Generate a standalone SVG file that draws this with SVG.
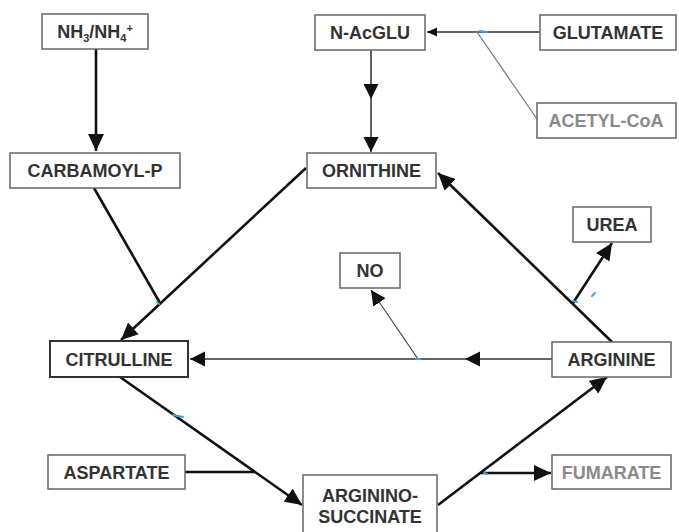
<svg xmlns="http://www.w3.org/2000/svg" width="679" height="532" viewBox="0 0 679 532">
<style>
.box{fill:#fff;stroke:#666;stroke-width:1.5}
.t{font-family:"Liberation Sans",Arial,sans-serif;font-weight:bold;font-size:18px;fill:#333;text-anchor:middle}
.g{fill:#8a8a8a}
.thick{fill:none;stroke:#111;stroke-width:2.6}
.med{fill:none;stroke:#333;stroke-width:1.5}
.thin{fill:none;stroke:#444;stroke-width:1.2}
.blue{fill:none;stroke:#3aa6dd;stroke-width:2;stroke-linecap:round}
</style>
<defs>
<marker id="big" markerUnits="userSpaceOnUse" markerWidth="18" markerHeight="16" refX="17" refY="8" orient="auto"><path d="M0,0 L17,8 L0,16 z" fill="#111"/></marker>
<marker id="mid" markerUnits="userSpaceOnUse" markerWidth="16" markerHeight="16" refX="15" refY="7.5" orient="auto"><path d="M0,0 L15,7.5 L0,15 z" fill="#111"/></marker>
<marker id="sm" markerUnits="userSpaceOnUse" markerWidth="12" markerHeight="10" refX="10" refY="4.5" orient="auto"><path d="M0,0 L10,4.5 L0,9 z" fill="#111"/></marker>
</defs>
<rect width="679" height="532" fill="#fff"/>
<g id="connectors">
<path class="thick" d="M96,49 L96,151" marker-end="url(#big)"/>
<path class="med" d="M540,32 L427,32" marker-end="url(#sm)"/>
<path fill="none" stroke="#777" stroke-width="1.2" d="M537,119 L477,32"/>
<path class="med" d="M371,50 L371,99 L371,152" marker-mid="url(#mid)" marker-end="url(#mid)"/>
<path class="thick" d="M94,188 L160,303"/>
<path class="thick" d="M306,168 L121,340" marker-end="url(#big)"/>
<path class="thick" d="M612,342 L438,173" marker-end="url(#big)"/>
<path class="thick" d="M573,303 L612,243" marker-end="url(#big)"/>
<path class="med" d="M552,359 L465,359 L190,359" marker-mid="url(#mid)" marker-end="url(#mid)"/>
<path class="thin" d="M418,359 L371,290" marker-end="url(#mid)"/>
<path class="thick" d="M120,377 L302,505" marker-end="url(#big)"/>
<path class="thick" d="M185,472 L255,472"/>
<path class="thick" d="M438,505 L607,377" marker-end="url(#big)"/>
<path class="thick" d="M481,473 L551,473" marker-end="url(#big)"/>
</g>
<g id="marks">
<path class="blue" d="M480,31 L487,32"/>
<path class="blue" d="M157,302 L159,304"/>
<path class="blue" d="M416,359 L420,359"/>
<path class="blue" d="M573,301 L577,302"/>
<path class="blue" d="M592,296 L595,293" stroke-width="1.2"/>
<path class="blue" d="M173,415 L183,417"/>
<path class="blue" d="M484,473 L487,474"/>
</g>
<g id="nh3"><rect class="box" x="42" y="14" width="106" height="35"/><text class="t" x="95" y="38">NH<tspan font-size="11" dy="4">3</tspan><tspan dy="-4">/NH</tspan><tspan font-size="11" dy="4">4</tspan><tspan font-size="11" dy="-10">+</tspan></text></g>
<g id="nacglu"><rect class="box" x="315" y="15" width="110" height="35"/><text class="t" x="370" y="39">N-AcGLU</text></g>
<g id="glutamate"><rect class="box" x="540" y="15" width="136" height="35"/><text class="t" x="608" y="39">GLUTAMATE</text></g>
<g id="acetylcoa"><rect class="box" x="537" y="103" width="139" height="35"/><text class="t g" x="606" y="127">ACETYL-CoA</text></g>
<g id="carbamoyl"><rect class="box" x="10" y="153" width="170" height="35"/><text class="t" x="95" y="177">CARBAMOYL-P</text></g>
<g id="ornithine"><rect class="box" x="307" y="153" width="129" height="35"/><text class="t" x="371.5" y="177">ORNITHINE</text></g>
<g id="urea"><rect class="box" x="573" y="207" width="78" height="35"/><text class="t" x="612" y="231">UREA</text></g>
<g id="no"><rect class="box" x="340" y="253" width="60" height="35"/><text class="t" x="370" y="277">NO</text></g>
<g id="citrulline"><rect class="box" x="50" y="341" width="138" height="36" style="stroke:#333;stroke-width:2"/><text class="t" x="119" y="365.5">CITRULLINE</text></g>
<g id="arginine"><rect class="box" x="552" y="342" width="119" height="35"/><text class="t" x="611.5" y="366">ARGININE</text></g>
<g id="aspartate"><rect class="box" x="48" y="455" width="137" height="34"/><text class="t" x="116.5" y="478.5">ASPARTATE</text></g>
<g id="argininosuccinate"><rect class="box" x="303" y="475" width="134" height="62"/><text class="t" x="370" y="502">ARGININO-</text><text class="t" x="370" y="523">SUCCINATE</text></g>
<g id="fumarate"><rect class="box" x="552" y="455" width="119" height="34"/><text class="t g" x="611.5" y="478.5">FUMARATE</text></g>
</svg>
